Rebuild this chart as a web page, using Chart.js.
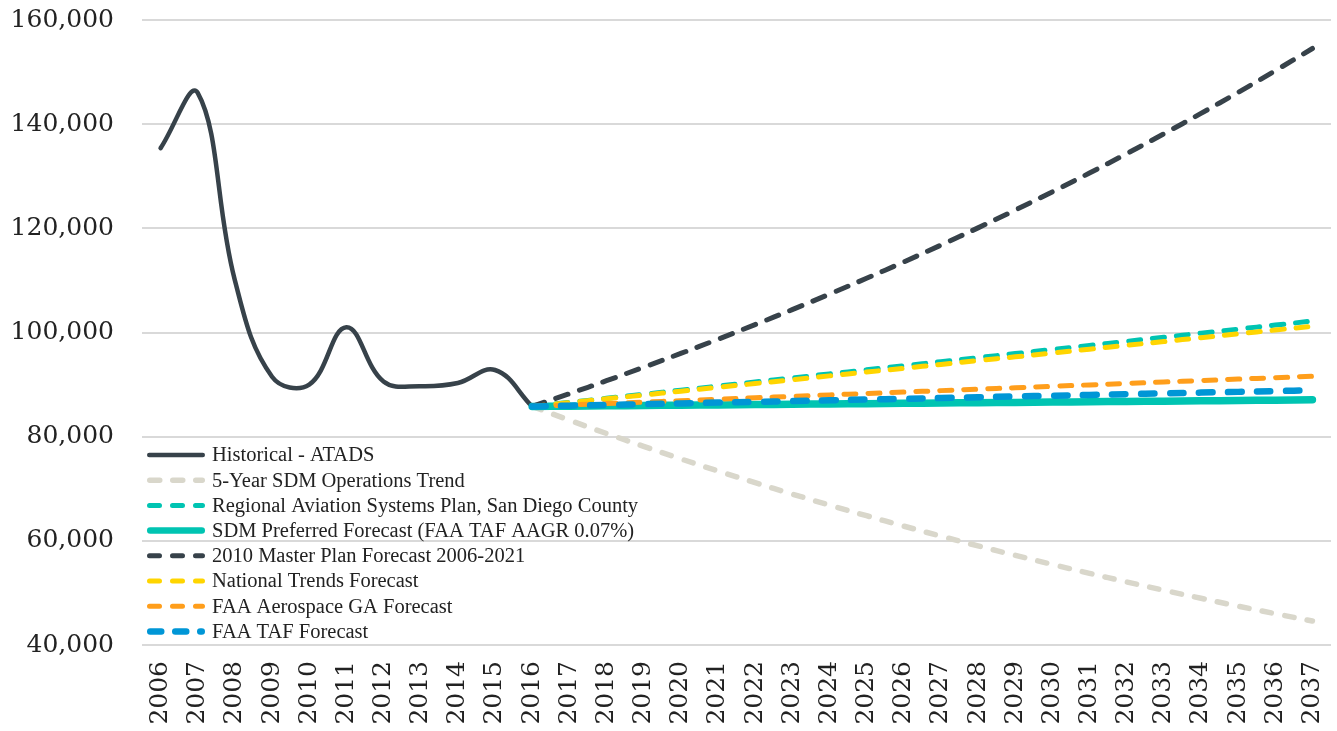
<!DOCTYPE html>
<html>
<head>
<meta charset="utf-8">
<script src="https://cdn.jsdelivr.net/npm/chart.js@4.4.0/dist/chart.umd.min.js"></script>
<style>
  body { margin: 0; background: #fff; }
  #wrap { width: 1337px; height: 731px; }
</style>
</head>
<body>
<div id="wrap"><canvas id="ops-chart"></canvas></div>
<script>
const years = ['2006','2007','2008','2009','2010','2011','2012','2013','2014','2015','2016',
  '2017','2018','2019','2020','2021','2022','2023','2024','2025','2026','2027',
  '2028','2029','2030','2031','2032','2033','2034','2035','2036','2037']

// 2006-2016
const historical = [135400, 146000, 110000, 91500, 90000, 101000, 90600, 89700, 90300, 92800, 85800]

// forecasts, 2016-2037
const fiveYearTrend = [85800, 83170, 80620, 78140, 75740, 73420, 71170, 68980, 66870, 64820, 62830,
  60900, 59030, 57220, 55470, 53760, 52110, 50510, 48970, 47460, 46010, 44600]
const regionalPlan = [85800, 86580, 87360, 88140, 88920, 89710, 90490, 91270, 92050, 92830, 93610,
  94390, 95170, 95950, 96730, 97520, 98300, 99080, 99860, 100640, 101420, 102200]
const sdmPreferred = [85800, 85860, 85920, 85980, 86040, 86100, 86160, 86220, 86280, 86340, 86400,
  86460, 86520, 86580, 86640, 86700, 86760, 86820, 86880, 86950, 87010, 87070]
const masterPlan2010 = [85800, 88240, 90740, 93330, 95980, 98700, 101510, 104390, 107360, 110410, 113540,
  116770, 120090, 123500, 127010, 130620, 134330, 138140, 142070, 146100, 150260, 154530]
const nationalTrends = [85800, 86530, 87270, 88000, 88730, 89470, 90200, 90930, 91670, 92400, 93130,
  93870, 94600, 95330, 96070, 96800, 97530, 98270, 99000, 99730, 100470, 101200]
const faaAerospace = [85800, 86080, 86350, 86630, 86900, 87180, 87460, 87730, 88010, 88290, 88560,
  88840, 89110, 89390, 89670, 89940, 90220, 90500, 90770, 91050, 91320, 91600]
const faaTaf = [85800, 85950, 86100, 86240, 86390, 86540, 86690, 86830, 86980, 87130, 87280,
  87420, 87570, 87720, 87870, 88010, 88160, 88310, 88460, 88600, 88750, 88900]

const yTicks = [40000, 60000, 80000, 100000, 120000, 140000, 160000]

const dark = '#37424a'
const teal = '#00c4b2'

function padHistory(arr) {
  return arr.concat(Array(years.length - arr.length).fill(null))
}
function padForecast(arr) {
  return Array(years.length - arr.length).fill(null).concat(arr)
}

function line(label, data, color, width, dash, order, legendDash) {
  return {
    label, data,
    borderColor: color,
    backgroundColor: color,
    borderWidth: width,
    borderDash: dash,
    borderCapStyle: 'round',
    borderJoinStyle: 'round',
    pointRadius: 0,
    tension: 0.4,
    fill: false,
    order,
    legendDash
  }
}

const datasets = [
  line('Historical - ATADS', padHistory(historical), dark, 4.5, [], 8, []),
  line('5-Year SDM Operations Trend', padForecast(fiveYearTrend), '#d9d7cb', 5.5, [9.5, 13.5], 7, [10, 13]),
  line('Regional Aviation Systems Plan, San Diego County', padForecast(regionalPlan), teal, 5, [12, 12], 6, [10, 13]),
  line('SDM Preferred Forecast (FAA TAF AAGR 0.07%)', padForecast(sdmPreferred), teal, 7.5, [], 5, []),
  line('2010 Master Plan Forecast 2006-2021', padForecast(masterPlan2010), dark, 5, [13, 12], 4, [10, 13]),
  line('National Trends Forecast', padForecast(nationalTrends), '#ffd500', 5, [12, 12], 3, [10, 13]),
  line('FAA Aerospace GA Forecast', padForecast(faaAerospace), '#ff9e1b', 5, [12, 12], 2, [10, 13]),
  line('FAA TAF Forecast', padForecast(faaTaf), '#0096d6', 6.5, [13.5, 15.5], 1, [11, 14])
]

// legend sits inside the plot, lower left
const insideLegend = {
  id: 'insideLegend',
  afterDraw(chart) {
    const { ctx, chartArea } = chart
    const x0 = chartArea.left + 5
    const lineLen = 58
    const top = chartArea.bottom - 190
    ctx.save()
    ctx.font = '20.5px "Liberation Serif"'
    ctx.textBaseline = 'middle'
    chart.data.datasets.forEach((ds, i) => {
      const y = top + i * 25.2
      ctx.strokeStyle = ds.borderColor
      ctx.lineWidth = Math.min(ds.borderWidth, 6.5)
      ctx.lineCap = 'round'
      ctx.setLineDash(ds.legendDash)
      ctx.beginPath()
      ctx.moveTo(x0 + ctx.lineWidth / 2, y)
      ctx.lineTo(x0 + lineLen - ctx.lineWidth / 2, y)
      ctx.stroke()
      ctx.setLineDash([])
      ctx.fillStyle = '#222'
      ctx.fillText(ds.label, x0 + lineLen + 7, y + 1)
    })
    ctx.restore()
  }
}

const tickFont = { family: 'DejaVu Serif', size: 25 }

new Chart('ops-chart', {
  type: 'line',
  data: { labels: years, datasets },
  options: {
    responsive: true,
    maintainAspectRatio: false,
    animation: false,
    layout: { padding: { left: 11, right: 6, top: 20, bottom: 6 } },
    plugins: {
      legend: { display: false },
      tooltip: { enabled: false }
    },
    scales: {
      x: {
        offset: true,
        grid: { display: false, drawTicks: false },
        border: { display: false },
        ticks: {
          autoSkip: false,
          minRotation: 90,
          maxRotation: 90,
          padding: 16,
          color: '#222',
          font: tickFont
        },
        afterFit: s => { s.height = 80; s.paddingLeft = 0; s.paddingRight = 0 }
      },
      y: {
        min: yTicks[0],
        max: yTicks[yTicks.length - 1],
        grid: { color: '#d9d9d9', lineWidth: 2, drawTicks: false },
        border: { display: false },
        ticks: {
          stepSize: yTicks[1] - yTicks[0],
          padding: 28,
          color: '#222',
          font: tickFont,
          callback: v => v.toLocaleString('en-US')
        },
        afterFit: s => { s.width = 131; s.paddingTop = 0; s.paddingBottom = 0 }
      }
    }
  },
  plugins: [insideLegend]
})
</script>
</body>
</html>
